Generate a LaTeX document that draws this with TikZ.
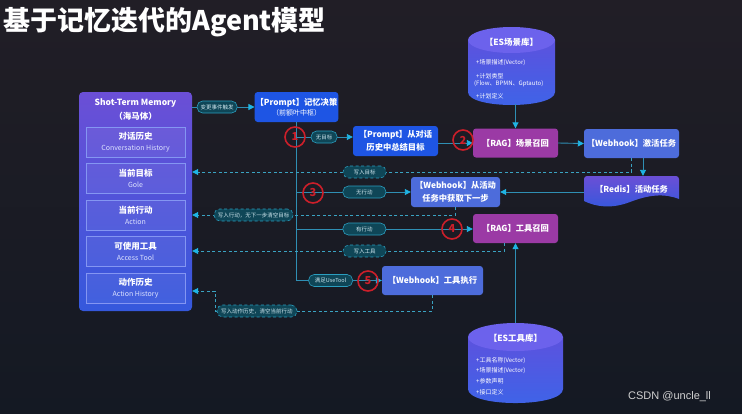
\documentclass[tikz,border=0pt]{standalone}
\usepackage{fontspec}
\setmainfont{Noto Sans CJK SC}
\newfontfamily\wmfont{Liberation Sans}
\usetikzlibrary{arrows.meta}
\definecolor{bgtop}{HTML}{211E26}
\definecolor{bgbot}{HTML}{141923}
\definecolor{memtop}{HTML}{6B4FD6}
\definecolor{membot}{HTML}{3558DC}
\definecolor{memline}{HTML}{8496F2}
\definecolor{pblue}{HTML}{1E55E4}
\definecolor{hookc}{HTML}{4D6CDB}
\definecolor{ragc}{HTML}{9B3AA5}
\definecolor{pillf}{HTML}{0F4657}
\definecolor{pilld}{HTML}{2B9EBF}
\definecolor{pilltext}{HTML}{CFE6EE}
\definecolor{linec}{HTML}{2F8FB4}
\definecolor{tipc}{HTML}{1FB4E4}
\definecolor{dashc}{HTML}{3AA3C2}
\definecolor{redc}{HTML}{CC1F2A}
\definecolor{cyltop}{HTML}{6C62EC}
\definecolor{cylmid}{HTML}{5C52DE}
\definecolor{cylbot}{HTML}{3D64E8}
\definecolor{subtext}{HTML}{DDE3FF}
\begin{document}
\begin{tikzpicture}[x=1pt,y=-1pt,
 box/.style={rounded corners=3pt, text=white, align=center, font=\bfseries\fontsize{8.3}{12.5}\selectfont, inner sep=1pt},
 pbox/.style={box, fill=pblue},
 hbox/.style={box, fill=hookc},
 rbox/.style={box, fill=ragc},
 inbox/.style={draw=memline, line width=0.8pt, fill=white, fill opacity=0.06, text opacity=1, text=white, align=center, minimum width=99pt, minimum height=30pt, inner sep=0pt},
 pill/.style={rounded corners=5.5pt, fill=pillf, draw=pilld, line width=0.6pt, text=pilltext, font=\fontsize{5.5}{6}\selectfont, minimum height=12pt, inner xsep=3pt, inner ysep=0pt},
 conn/.style={draw=linec, line width=0.9pt},
 tip/.style={-{Triangle[length=6pt,width=6pt,color=tipc]}},
 dconn/.style={draw=dashc, line width=0.9pt, dash pattern=on 3pt off 2.5pt},
 num/.style={circle, draw=redc, line width=1.6pt, minimum size=20pt, inner sep=0pt, text=redc, font=\bfseries\fontsize{11}{11}\selectfont},
 cyltxt/.style={text=white, anchor=west, font=\fontsize{6}{7}\selectfont, inner sep=0pt},
]
% background
\path[top color=bgtop, bottom color=bgbot] (0,0) rectangle (742,413);
\useasboundingbox (0,0) rectangle (742,413);

% title
\node[anchor=west, text=white, font=\bfseries\fontsize{27}{27}\selectfont, inner sep=0pt] (title) at (3,22) {基于记忆迭代的Agent模型};

% memory block
\node[rounded corners=4pt, top color=memtop, bottom color=membot, minimum width=113pt, minimum height=219pt, inner sep=0pt] (mem) at (135.5,201.5) {};
\node[text=white, font=\bfseries\fontsize{8.5}{14}\selectfont, align=center] (memt) at (135.5,110) {Shot-Term Memory\\（海马体）};
\node[inbox] (m1) at (135.5,142) {{\bfseries\fontsize{8.5}{10}\selectfont 对话历史}\\[-1pt]{\color{subtext}\fontsize{7}{9}\selectfont Conversation History}};
\node[inbox] (m2) at (135.5,178.5) {{\bfseries\fontsize{8.5}{10}\selectfont 当前目标}\\[-1pt]{\color{subtext}\fontsize{7}{9}\selectfont Gole}};
\node[inbox] (m3) at (135.5,215.5) {{\bfseries\fontsize{8.5}{10}\selectfont 当前行动}\\[-1pt]{\color{subtext}\fontsize{7}{9}\selectfont Action}};
\node[inbox] (m4) at (135.5,251.5) {{\bfseries\fontsize{8.5}{10}\selectfont 可使用工具}\\[-1pt]{\color{subtext}\fontsize{7}{9}\selectfont Access Tool}};
\node[inbox] (m5) at (135.5,288) {{\bfseries\fontsize{8.5}{10}\selectfont 动作历史}\\[-1pt]{\color{subtext}\fontsize{7}{9}\selectfont Action History}};

% boxes
\node[pbox, minimum width=83pt, minimum height=30pt] (prompt) at (296.5,107) {【Prompt】记忆决策\\[-3pt]{\mdseries\fontsize{7}{8}\selectfont（前额叶中枢）}};
\node[pbox, minimum width=85pt, minimum height=30pt] (summ) at (395.5,141) {【Prompt】从对话\\历史中总结目标};
\node[rbox, minimum width=85pt, minimum height=29pt] (rag1) at (515.5,143) {【RAG】场景召回};
\node[hbox, minimum width=95pt, minimum height=29pt] (act) at (631.5,143.5) {【Webhook】激活任务};
\node[hbox, minimum width=89pt, minimum height=30pt] (next) at (455.5,192) {【Webhook】从活动\\任务中获取下一步};
\node[rbox, minimum width=85pt, minimum height=29pt] (rag2) at (515.5,228.5) {【RAG】工具召回};
\node[hbox, minimum width=101pt, minimum height=29pt] (exec) at (432.5,280.5) {【Webhook】工具执行};

% redis (document shape)
\path[top color=memtop, bottom color=membot]
  (584,185) [rounded corners=3pt] -- (584,176) -- (679,176) [sharp corners] -- (679,199)
  .. controls (664,193) and (648,195) .. (630,202)
  .. controls (612,209) and (596,207) .. (584,201) -- cycle;
\node[text=white, font=\bfseries\fontsize{8.3}{10}\selectfont, minimum width=95pt, minimum height=26pt, inner sep=0pt] (redis) at (631.5,189) {【Redis】活动任务};

% ES scene library cylinder
\path[top color=cylmid, bottom color=cylbot]
  (468,40) -- (468,92) .. controls (468,109.3) and (555,109.3) .. (555,92) -- (555,40) -- cycle;
\fill[cyltop] (511.5,40) ellipse [x radius=43.5pt, y radius=13pt];
\node[text=white, font=\bfseries\fontsize{8.5}{10}\selectfont] (scenet) at (511.5,42) {【ES场景库】};
\node[cyltxt] (s1) at (476,63) {+场景描述(Vector)};
\node[cyltxt] (s2) at (476,76) {+计划类型};
\node[cyltxt] (s3) at (474,84) {(Flow、BPMN、Gptauto)};
\node[cyltxt] (s4) at (476,96) {+计划定义};
\coordinate (sceneb) at (515.5,104);

% ES tool library cylinder
\path[top color=cylmid, bottom color=cylbot]
  (468,337) -- (468,389) .. controls (468,407.7) and (563,407.7) .. (563,389) -- (563,337) -- cycle;
\fill[cyltop] (515.5,337) ellipse [x radius=47.5pt, y radius=14pt];
\node[text=white, font=\bfseries\fontsize{8.5}{10}\selectfont] (toolt) at (515.5,338) {【ES工具库】};
\node[cyltxt] (u1) at (476,361) {+工具名称(Vector)};
\node[cyltxt] (u2) at (476,371) {+场景描述(Vector)};
\node[cyltxt] (u3) at (476,381) {+参数声明};
\node[cyltxt] (u4) at (476,392) {+接口定义};
\coordinate (toolt0) at (515.5,323);

% solid connectors
\draw[conn,tip] (mem.east |- prompt.west) -- node[pill, pos=0.4, minimum width=40pt]{变更事件触发} (prompt.west);
\coordinate (t1) at (296.5,137);
\coordinate (t3) at (296.5,192);
\coordinate (t4) at (296.5,229);
\coordinate (t5) at (prompt.south |- exec.west);
\draw[conn] (prompt.south) -- (t5);
\draw[conn,tip] (t5) -- node[pill, pos=0.4, minimum width=44pt]{满足UseTool} (exec.west);
\draw[conn,tip] (t1) -- node[pill, pos=0.49, minimum width=26pt]{无目标} (t1 -| summ.west);
\draw[conn,tip] (t3) -- node[pill, pos=0.594, minimum width=43pt]{无行动} (t3 -| next.west);
\draw[conn,tip] (t4) -- node[pill, pos=0.385, minimum width=43pt]{有行动} (t4 -| rag2.west);
\draw[conn,tip] (summ.east |- rag1.west) -- (rag1.west);
\draw[conn,tip] (rag1.east) -- (act.west);
\draw[conn,tip] ([xshift=11.5pt]act.south) -- ([xshift=11.5pt]act.south |- redis.north);
\draw[conn,tip] (redis.west |- next.east) -- (next.east);
\draw[conn,tip] (sceneb) -- (rag1.north);
\draw[conn,tip] (toolt0) -- (rag2.south);

% dashed connectors
\coordinate (d1) at (631.5,172);
\draw[dconn,tip] (act.south) -- (d1) -- node[pill, pos=0.6075, minimum width=43pt]{写入目标} (mem.east |- d1);
\coordinate (d2) at (455.5,215);
\draw[dconn,tip] (next.south) -- (d2) -- node[pill, pos=0.767, minimum width=79pt]{写入行动，无下一步清空目标} (mem.east |- d2);
\coordinate (d3a) at (504,243);
\coordinate (d3) at (504,251);
\draw[dconn,tip] (d3a) -- (d3) -- node[pill, pos=0.447, minimum width=43pt]{写入工具} (mem.east |- d3);
\coordinate (d4) at (432.5,311);
\coordinate (d4b) at (215,311);
\coordinate (d4c) at (215,291);
\draw[dconn,tip] (exec.south) -- (d4) -- node[pill, pos=0.807, minimum width=80pt]{写入动作历史，清空当前行动} (d4b) -- (d4c) -- (mem.east |- d4c);

% numbered circles
\node[num] (n1) at (295,137) {1};
\node[num] (n2) at (463,140) {2};
\node[num] (n3) at (313,193) {3};
\node[num] (n4) at (452,229) {4};
\node[num] (n5) at (368,281) {5};

% watermark
\node[anchor=west, text=white!82!black, font=\wmfont\fontsize{11}{12}\selectfont, inner sep=0pt] (wm) at (628,397) {CSDN @uncle\_ll};
\end{tikzpicture}
\end{document}
